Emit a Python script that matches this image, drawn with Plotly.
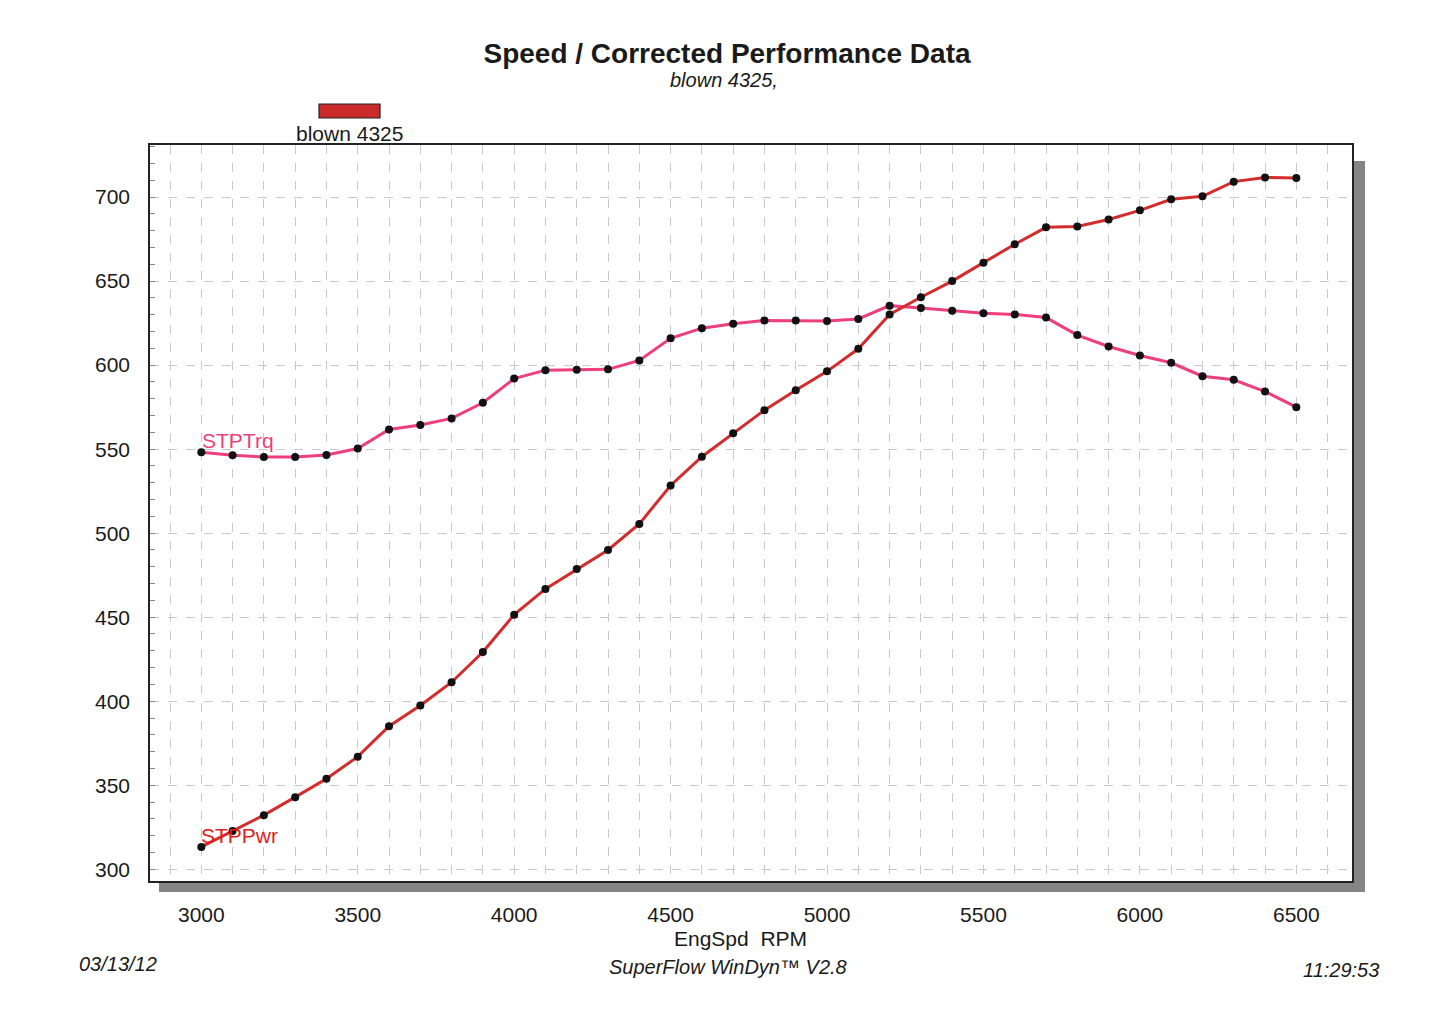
import plotly.graph_objects as go

# ---------------- data ----------------
rpm = [3000, 3100, 3200, 3300, 3400, 3500, 3600, 3700, 3800, 3900,
       4000, 4100, 4200, 4300, 4400, 4500, 4600, 4700, 4800, 4900,
       5000, 5100, 5200, 5300, 5400, 5500, 5600, 5700, 5800, 5900,
       6000, 6100, 6200, 6300, 6400, 6500]

stp_trq = [548.2, 546.4, 545.3, 545.3, 546.5, 550.4, 561.7, 564.4, 568.3, 577.6,
           592.0, 597.0, 597.2, 597.5, 602.8, 616.0, 622.0, 624.6, 626.6, 626.6,
           626.3, 627.5, 635.4, 634.0, 632.3, 630.9, 630.2, 628.3, 617.9, 611.1,
           605.7, 601.4, 593.4, 591.3, 584.3, 575.0]

stp_pwr = [313.3, 322.7, 332.2, 342.9, 353.8, 367.0, 385.1, 397.5, 411.3, 429.3,
           451.5, 466.8, 478.6, 490.0, 505.5, 528.4, 545.5, 559.4, 573.2, 585.0,
           596.3, 609.7, 630.2, 640.4, 650.0, 661.0, 671.9, 682.0, 682.5, 686.7,
           692.1, 698.7, 700.5, 709.2, 711.7, 711.4]

y_ticks = [300, 350, 400, 450, 500, 550, 600, 650, 700]
x_ticks = [3000, 3500, 4000, 4500, 5000, 5500, 6000, 6500]

title_text = "<b>Speed / Corrected Performance Data</b>"
subtitle_text = "<i>blown 4325,</i>"
legend_text = "blown 4325"
x_title = "EngSpd\u00a0 RPM"
footer_left = "<i>03/13/12</i>"
footer_mid = "<i>SuperFlow WinDyn\u2122 V2.8</i>"
footer_right = "<i>11:29:53</i>"

TRQ_COLOR = "#EE3F7C"
PWR_COLOR = "#D42C2C"

# ---------------- layout geometry (target page pixels) ----------------
OFF = 8                      # page body margin
W, H = 1445 - 2 * OFF, 1021 - 2 * OFF
L, R, T, B = 150, 1352, 145, 881   # plot area in page pixels


def px(x):
    return (x - L) / (R - L)


def py(y):
    return (B - y) / (B - T)


FONT = "Liberation Sans, Arial, sans-serif"

fig = go.Figure()

fig.add_trace(go.Scatter(
    x=rpm, y=stp_trq, mode="lines+markers", name="STPTrq",
    line=dict(color=TRQ_COLOR, width=3),
    marker=dict(color="#111111", size=8),
    showlegend=False,
))
fig.add_trace(go.Scatter(
    x=rpm, y=stp_pwr, mode="lines+markers", name="STPPwr",
    line=dict(color=PWR_COLOR, width=3),
    marker=dict(color="#111111", size=8),
    showlegend=False,
))

grid_col = "#c9c9c9"

fig.update_xaxes(
    range=[2836, 6678],
    tickvals=x_ticks,
    ticktext=[str(v) for v in x_ticks],
    showgrid=True, gridcolor=grid_col, griddash="dash", gridwidth=1,
    minor=dict(dtick=100, tick0=3000, showgrid=True, gridcolor=grid_col,
               griddash="dash", gridwidth=1),
    showline=True, linecolor="#222222", linewidth=1.5, mirror=True,
    ticks="", ticklabelstandoff=14,
    tickfont=dict(family=FONT, size=21, color="#1a1a1a"),
    zeroline=False,
)
fig.update_yaxes(
    range=[293, 731],
    tickvals=y_ticks,
    ticktext=[str(v) for v in y_ticks],
    showgrid=True, gridcolor=grid_col, griddash="dash", gridwidth=1,
    minor=dict(dtick=10, tick0=300, ticks="inside", ticklen=5,
               tickcolor="#888888", showgrid=False),
    showline=True, linecolor="#222222", linewidth=1.5, mirror=True,
    ticks="", ticklabelstandoff=14,
    tickfont=dict(family=FONT, size=21, color="#1a1a1a"),
    zeroline=False,
)

shapes = [
    # drop shadow: right strip
    dict(type="rect", xref="paper", yref="paper",
         x0=px(R + 1), x1=px(1365), y0=py(892), y1=py(161),
         fillcolor="#858585", line=dict(width=0), layer="below"),
    # drop shadow: bottom strip
    dict(type="rect", xref="paper", yref="paper",
         x0=px(159), x1=px(1365), y0=py(892), y1=py(B + 1),
         fillcolor="#858585", line=dict(width=0), layer="below"),
    # legend swatch
    dict(type="rect", xref="paper", yref="paper",
         x0=px(319), x1=px(380), y0=py(118), y1=py(104),
         fillcolor="#CC2B2B", line=dict(color="#222222", width=1.2)),
]

annotations = [
    dict(text=subtitle_text, xref="paper", yref="paper", x=px(724), y=py(80),
         showarrow=False, font=dict(family=FONT, size=20, color="#1a1a1a"),
         xanchor="center", yanchor="middle"),
    dict(text=legend_text, xref="paper", yref="paper", x=px(349), y=py(133),
         showarrow=False, font=dict(family=FONT, size=21, color="#1a1a1a"),
         xanchor="center", yanchor="middle"),
    dict(text=x_title, xref="paper", yref="paper", x=px(740), y=py(938),
         showarrow=False, font=dict(family=FONT, size=21, color="#1a1a1a"),
         xanchor="center", yanchor="middle"),
    dict(text=footer_left, xref="paper", yref="paper", x=px(77), y=py(964),
         showarrow=False, font=dict(family=FONT, size=20, color="#1a1a1a"),
         xanchor="left", yanchor="middle"),
    dict(text=footer_mid, xref="paper", yref="paper", x=px(728), y=py(967),
         showarrow=False, font=dict(family=FONT, size=20, color="#1a1a1a"),
         xanchor="center", yanchor="middle"),
    dict(text=footer_right, xref="paper", yref="paper", x=px(1381), y=py(970),
         showarrow=False, font=dict(family=FONT, size=20, color="#1a1a1a"),
         xanchor="right", yanchor="middle"),
    # series labels
    dict(text="STPTrq", x=rpm[0], y=stp_trq[0], xref="x", yref="y",
         showarrow=False, font=dict(family=FONT, size=21, color=TRQ_COLOR),
         xanchor="left", yanchor="middle", xshift=-1, yshift=12),
    dict(text="STPPwr", x=rpm[0], y=stp_pwr[0], xref="x", yref="y",
         showarrow=False, font=dict(family=FONT, size=21, color="#E01E1E"),
         xanchor="left", yanchor="middle", xshift=-2, yshift=11),
]

fig.update_layout(
    width=W, height=H,
    margin=dict(l=L - OFF, r=W - (R - OFF), t=T - OFF, b=H - (B - OFF), pad=0),
    paper_bgcolor="white", plot_bgcolor="white",
    title=dict(text=title_text, x=(727 - OFF) / W, xref="container",
               xanchor="center",
               y=1 - (53 - OFF) / H, yref="container", yanchor="middle",
               font=dict(family=FONT, size=28, color="#1a1a1a")),
    shapes=shapes,
    annotations=annotations,
    showlegend=False,
)

fig.write_html("out.html")
